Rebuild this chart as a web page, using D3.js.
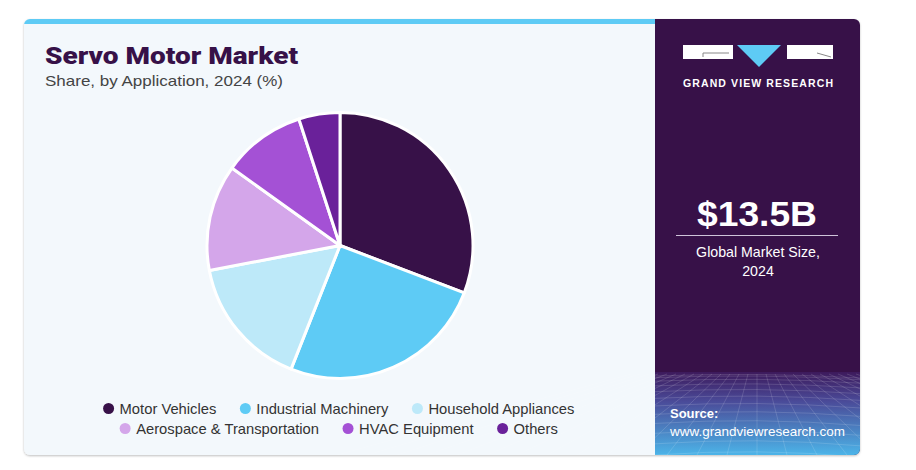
<!DOCTYPE html>
<html><head><meta charset="utf-8">
<script src="https://cdn.jsdelivr.net/npm/d3@7"></script>
<style>body{margin:0;background:#fff;}svg{display:block;font-family:"Liberation Sans",Arial,sans-serif;}</style>
</head><body>
<svg id="c" width="916" height="470"></svg>
<script>
const categories = ["Motor Vehicles","Industrial Machinery","Household Appliances","Aerospace & Transportation","HVAC Equipment","Others"];
const shares = [30.8, 25.2, 16.0, 12.9, 10.1, 5.0];
const colors = ["#371148","#5ECBF5","#BDE9F9","#D4A6EA","#A451D5","#6A219A"];
const legendRows = [[0,1,2],[3,4,5]];
const title = "Servo Motor Market";
const subtitle = "Share, by Application, 2024 (%)";
const marketSize = "$13.5B";
const marketLabel = ["Global Market Size,", "2024"];

const svg = d3.select("#c");
const defs = svg.append("defs");
const sh = defs.append("filter").attr("id","sh").attr("x","-5%").attr("y","-5%").attr("width","110%").attr("height","110%");
sh.append("feDropShadow").attr("dx",0).attr("dy",1).attr("stdDeviation",1.2).attr("flood-color","#000").attr("flood-opacity",0.25);
const cp = defs.append("clipPath").attr("id","card");
cp.append("rect").attr("x",24).attr("y",19).attr("width",836).attr("height",436).attr("rx",6);
const g1 = defs.append("linearGradient").attr("id","gb").attr("x1",0).attr("y1",0).attr("x2",0).attr("y2",1);
g1.append("stop").attr("offset","0%").attr("stop-color","#3d1a5c");
g1.append("stop").attr("offset","35%").attr("stop-color","#4a4a98");
g1.append("stop").attr("offset","100%").attr("stop-color","#4cb4e8");

// card
svg.append("rect").attr("x",24).attr("y",19).attr("width",836).attr("height",436).attr("rx",6).attr("fill","#F3F8FC").attr("filter","url(#sh)");
const card = svg.append("g").attr("clip-path","url(#card)");
card.append("rect").attr("x",24).attr("y",19).attr("width",631).attr("height",5).attr("fill","#5ECBF5");
card.append("rect").attr("x",655).attr("y",19).attr("width",205).attr("height",436).attr("fill","#371148");
card.append("rect").attr("x",655).attr("y",372).attr("width",205).attr("height",83).attr("fill","url(#gb)");
// perspective grid in the bottom of right panel
const grid = card.append("g").attr("stroke","#ffffff").attr("stroke-opacity",0.18).attr("stroke-width",0.8).attr("fill","none");
d3.range(0,12).forEach(i=>{
  const y = 376 + Math.pow(i/11,1.6)*79;
  grid.append("path").attr("d",`M655,${y} Q757,${y-4-i*0.3} 860,${y+2}`);
});
d3.range(-14,15).forEach(i=>{
  grid.append("line").attr("x1",757+i*9).attr("y1",374).attr("x2",757+i*30).attr("y2",455);
});

// title
svg.append("text").attr("x",45).attr("y",64).attr("fill","#371148").attr("font-size",24).attr("font-weight",900)
  .attr("textLength",253).attr("lengthAdjust","spacingAndGlyphs")
  .style("font-family","Roboto, 'Liberation Sans', sans-serif").text(title);
svg.append("text").attr("x",45).attr("y",86).attr("fill","#444").attr("font-size",15)
  .attr("textLength",238).attr("lengthAdjust","spacingAndGlyphs").text(subtitle);

// pie
const cx = 340, cy = 245.5, r = 133;
const pie = d3.pie().sort(null).value(d=>d);
const arc = d3.arc().innerRadius(0).outerRadius(r);
svg.append("g").attr("transform",`translate(${cx},${cy})`)
  .selectAll("path").data(pie(shares)).join("path")
  .attr("d",arc).attr("fill",(d,i)=>colors[i]).attr("stroke","#fff").attr("stroke-width",3).attr("stroke-linejoin","round");

// legend
const legY = [413.5, 433.5];
const gap = 24;
legendRows.forEach((row,ri)=>{
  const lg = svg.append("g");
  let x = 0;
  row.forEach((ci,k)=>{
    const it = lg.append("g").attr("transform",`translate(${x},0)`);
    it.append("circle").attr("cx",5).attr("cy",-5).attr("r",5.5).attr("fill",colors[ci]);
    const t = it.append("text").attr("x",16).attr("y",0).attr("font-size",14.2).attr("fill","#333").text(categories[ci]);
    const w0 = t.node().getComputedTextLength();
    const w1 = w0*1.04;
    t.attr("textLength",w1).attr("lengthAdjust","spacingAndGlyphs");
    x += 16 + w1 + gap;
  });
  const w = x - gap;
  lg.attr("transform",`translate(${339 - w/2},${legY[ri]})`);
});

// logo
const lx = 683;
svg.append("rect").attr("x",lx).attr("y",45).attr("width",50).attr("height",14).attr("fill","#fff");
svg.append("path").attr("d",`M${lx+20},57 L${lx+20},53 L${lx+46},53`).attr("stroke","#888").attr("stroke-width",1).attr("fill","none");
svg.append("path").attr("d",`M737,45 L781,45 L759,67 Z`).attr("fill","#5ECBF5");
svg.append("rect").attr("x",787).attr("y",45).attr("width",46).attr("height",14).attr("fill","#fff");
svg.append("path").attr("d",`M817,53 L831,57`).attr("stroke","#888").attr("stroke-width",1);
svg.append("text").attr("x",683).attr("y",87).attr("fill","#fff").attr("font-size",10.5)
  .attr("font-weight",700).attr("textLength",150).attr("lengthAdjust","spacing").text("GRAND VIEW RESEARCH");

// market size
svg.append("text").attr("x",697).attr("y",226).attr("fill","#fff").attr("font-size",35).attr("font-weight",700)
  .attr("textLength",120).attr("lengthAdjust","spacingAndGlyphs").text(marketSize);
svg.append("line").attr("x1",676).attr("x2",838).attr("y1",235.5).attr("y2",235.5).attr("stroke","#cfc4da").attr("stroke-width",1.2);
marketLabel.forEach((s,i)=>svg.append("text").attr("x",758).attr("y",257+i*19).attr("text-anchor","middle").attr("fill","#fff").attr("font-size",14.2).text(s));

// source
svg.append("text").attr("x",670).attr("y",418).attr("fill","#fff").attr("font-size",13).attr("font-weight",700).text("Source:");
svg.append("text").attr("x",670).attr("y",436).attr("fill","#fff").attr("font-size",13)
  .attr("textLength",175).attr("lengthAdjust","spacingAndGlyphs").text("www.grandviewresearch.com");
</script>
</body></html>
